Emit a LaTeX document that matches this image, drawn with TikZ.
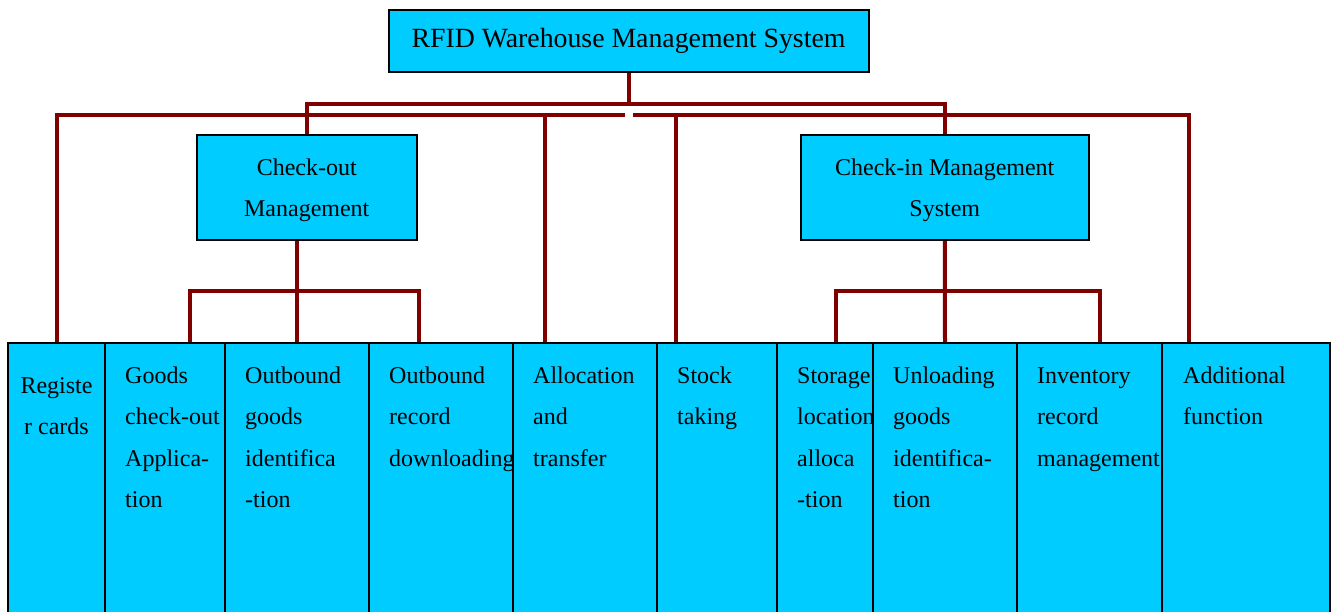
\documentclass[tikz,border=0pt]{standalone}
\usepackage{fontspec}
\setmainfont{Liberation Serif}
\usetikzlibrary{calc,backgrounds}
\definecolor{boxcyan}{RGB}{0,204,255}
\definecolor{connred}{RGB}{128,0,0}
\begin{document}
\begin{tikzpicture}[x=1pt,y=-1pt,
  box/.style={draw=black, line width=1.5pt, fill=boxcyan, inner sep=0pt, outer sep=0pt},
  leafbox/.style={box, anchor=north west, minimum height=357pt},
  conn/.style={draw=connred, line width=4pt, line join=miter},
  midfont/.style={font=\fontsize{24}{41.5}\selectfont},
  leaf/.style={anchor=north west, inner sep=0pt, align=left, midfont},
]
\useasboundingbox (0,0) rectangle (1333,612);
\clip (0,0) rectangle (1333,612);

% top and middle boxes
\node[box, line width=2pt, minimum width=480pt, minimum height=62pt,
      font=\fontsize{27.8}{33}\selectfont] (top) at (628.5,41) {RFID Warehouse Management System};
\node[box, minimum width=220pt, minimum height=105pt, align=center, midfont] (co) at (306.75,187.5)
  {\strut Check-out\\\strut Management};
\node[box, minimum width=288pt, minimum height=105pt, align=center, midfont] (ci) at (944.75,187.5)
  {\strut Check-in Management\\\strut System};

% bottom boxes
\node[leafbox, minimum width=97pt]  (reg)   at (8,343) {};
\node[leafbox, minimum width=120pt] (goods) at (105,343) {};
\node[leafbox, minimum width=144pt] (outg)  at (225,343) {};
\node[leafbox, minimum width=144pt] (outr)  at (369,343) {};
\node[leafbox, minimum width=144pt] (alloc) at (513,343) {};
\node[leafbox, minimum width=120pt] (stock) at (657,343) {};
\node[leafbox, minimum width=96pt]  (stor)  at (777,343) {};
\node[leafbox, minimum width=144pt] (unl)   at (873,343) {};
\node[leafbox, minimum width=145pt] (inv)   at (1017,343) {};
\node[leafbox, minimum width=168pt] (add)   at (1162,343) {};

% bottom labels
\node[leaf, anchor=north, align=center] (reg-t) at (56.5,364) {\strut Registe\\\strut r cards};
\node[leaf] (goods-t) at (125,354) {\strut Goods\\\strut check-out\\\strut Applica-\\\strut tion};
\node[leaf] (outg-t)  at (245,354) {\strut Outbound\\\strut goods\\\strut identifica\\\strut -tion};
\node[leaf] (outr-t)  at (389,354) {\strut Outbound\\\strut record\\\strut downloading};
\node[leaf] (alloc-t) at (533,354) {\strut Allocation\\\strut and\\\strut transfer};
\node[leaf] (stock-t) at (677,354) {\strut Stock\\\strut taking};
\node[leaf] (stor-t)  at (797,354) {\strut Storage\\\strut location\\\strut alloca\\\strut -tion};
\node[leaf] (unl-t)   at (893,354) {\strut Unloading\\\strut goods\\\strut identifica-\\\strut tion};
\node[leaf] (inv-t)   at (1037,354) {\strut Inventory\\\strut record\\\strut management};
\node[leaf] (add-t)   at (1183,354) {\strut Additional\\\strut function};

% connector points
\coordinate (bus1) at (628.5,104);
\coordinate (gapL) at (625,115);
\coordinate (gapR) at (633,115);
\coordinate (alloc-in) at ($(alloc.north west)+(32,0)$);
\coordinate (stock-in) at ($(stock.north west)+(19,0)$);
\coordinate (add-in)   at ($(add.north west)+(27,0)$);
\coordinate (goods-in) at ($(goods.north west)+(85,0)$);
\coordinate (outr-in)  at ($(outr.north west)+(50,0)$);
\coordinate (stor-in)  at ($(stor.north west)+(59,0)$);
\coordinate (inv-in)   at ($(inv.north west)+(83,0)$);
\coordinate (cob) at (outg.north |- 0,291);
\coordinate (cib) at (ci.south |- 0,291);

\begin{scope}[on background layer]
\draw[conn] (top.south) -- (bus1);
\draw[conn] (co.north) |- (bus1) -| (ci.north);
\draw[conn] (reg.north) |- (gapL);
\draw[conn] (alloc-in) -- (alloc-in |- gapL);
\draw[conn] (gapR) -| (add-in);
\draw[conn] (stock-in) -- (stock-in |- gapR);
\draw[conn] (outg.north |- co.south) -- (outg.north);
\draw[conn] (goods-in) |- (cob) -| (outr-in);
\draw[conn] (ci.south) -- (unl.north);
\draw[conn] (stor-in) |- (cib) -| (inv-in);
\end{scope}
\end{tikzpicture}
\end{document}
